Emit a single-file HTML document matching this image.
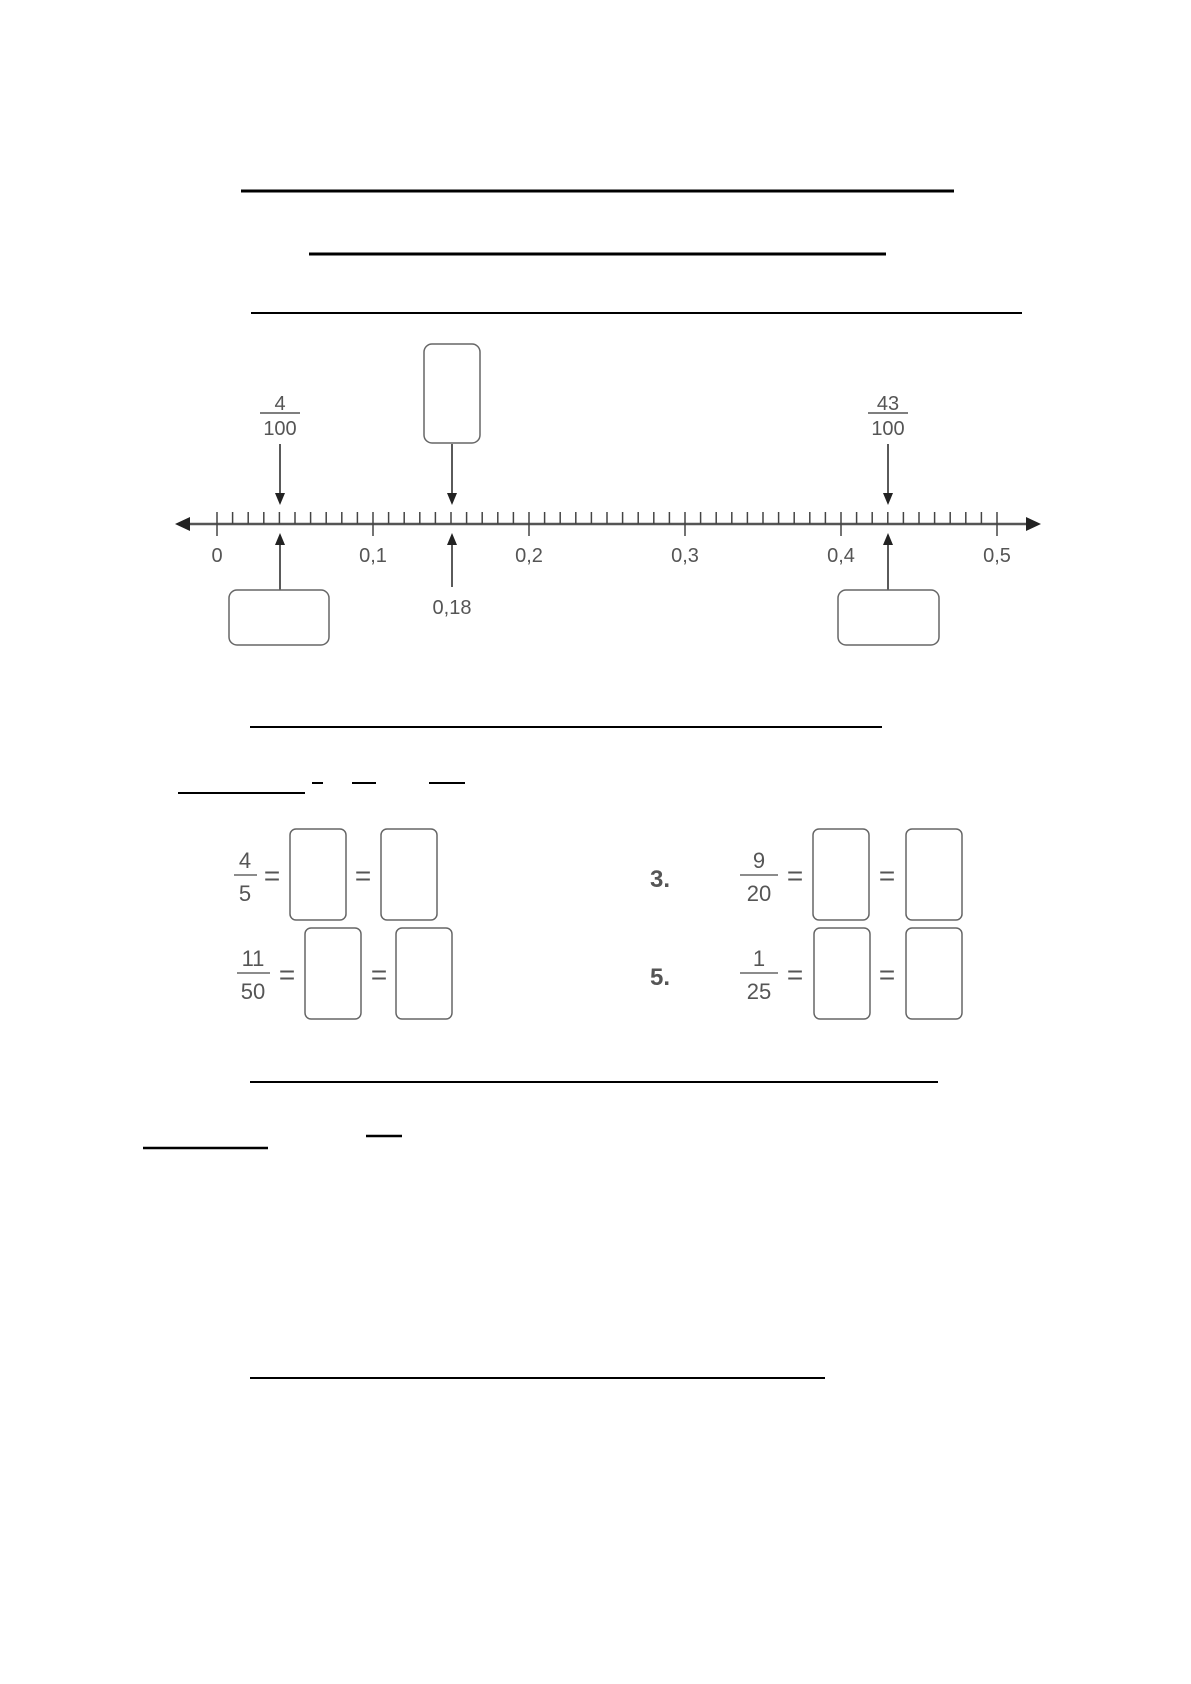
<!DOCTYPE html>
<html><head><meta charset="utf-8"><style>
html,body{margin:0;padding:0;background:#fff;}
svg{display:block;}
text{font-family:"Liberation Sans",sans-serif;fill:#555;}
</style></head><body>
<svg width="1191" height="1684" viewBox="0 0 1191 1684" xmlns="http://www.w3.org/2000/svg">
<defs>
<marker id="ah" markerWidth="10" markerHeight="12" refX="5" refY="11" orient="auto-start-reverse" markerUnits="userSpaceOnUse">
<path d="M0,0 L10,0 L5,12 z" fill="#222"/>
</marker>
</defs>
<!-- heading lines -->
<line x1="241" y1="191" x2="954" y2="191" stroke="#000" stroke-width="3"/>
<line x1="309" y1="254" x2="886" y2="254" stroke="#000" stroke-width="3"/>
<line x1="251" y1="313" x2="1022" y2="313" stroke="#000" stroke-width="2"/>
<line x1="250" y1="727" x2="882" y2="727" stroke="#000" stroke-width="2"/>
<line x1="178" y1="793" x2="305" y2="793" stroke="#000" stroke-width="2"/>
<line x1="312" y1="783" x2="323" y2="783" stroke="#000" stroke-width="2"/>
<line x1="352" y1="783" x2="376" y2="783" stroke="#000" stroke-width="2"/>
<line x1="429" y1="783" x2="465" y2="783" stroke="#000" stroke-width="2"/>
<line x1="250" y1="1082" x2="938" y2="1082" stroke="#000" stroke-width="2"/>
<line x1="143" y1="1148" x2="268" y2="1148" stroke="#000" stroke-width="2.5"/>
<line x1="366" y1="1136" x2="402" y2="1136" stroke="#000" stroke-width="2.5"/>
<line x1="250" y1="1378" x2="825" y2="1378" stroke="#000" stroke-width="2"/>

<!-- number line -->
<line x1="185" y1="524" x2="1030" y2="524" stroke="#555" stroke-width="2.5"/>
<path d="M175,524 L190,517 L190,531 z" fill="#222"/>
<path d="M1041,524 L1026,517 L1026,531 z" fill="#222"/>
<g stroke="#444" stroke-width="1.5" id="ticks">
<line x1="217" y1="512" x2="217" y2="536"/><line x1="232.6" y1="512" x2="232.6" y2="524"/><line x1="248.2" y1="512" x2="248.2" y2="524"/><line x1="263.8" y1="512" x2="263.8" y2="524"/><line x1="279.4" y1="512" x2="279.4" y2="524"/><line x1="295" y1="512" x2="295" y2="524"/><line x1="310.6" y1="512" x2="310.6" y2="524"/><line x1="326.2" y1="512" x2="326.2" y2="524"/><line x1="341.8" y1="512" x2="341.8" y2="524"/><line x1="357.4" y1="512" x2="357.4" y2="524"/>
<line x1="373" y1="512" x2="373" y2="536"/><line x1="388.6" y1="512" x2="388.6" y2="524"/><line x1="404.2" y1="512" x2="404.2" y2="524"/><line x1="419.8" y1="512" x2="419.8" y2="524"/><line x1="435.4" y1="512" x2="435.4" y2="524"/><line x1="451" y1="512" x2="451" y2="524"/><line x1="466.6" y1="512" x2="466.6" y2="524"/><line x1="482.2" y1="512" x2="482.2" y2="524"/><line x1="497.8" y1="512" x2="497.8" y2="524"/><line x1="513.4" y1="512" x2="513.4" y2="524"/>
<line x1="529" y1="512" x2="529" y2="536"/><line x1="544.6" y1="512" x2="544.6" y2="524"/><line x1="560.2" y1="512" x2="560.2" y2="524"/><line x1="575.8" y1="512" x2="575.8" y2="524"/><line x1="591.4" y1="512" x2="591.4" y2="524"/><line x1="607" y1="512" x2="607" y2="524"/><line x1="622.6" y1="512" x2="622.6" y2="524"/><line x1="638.2" y1="512" x2="638.2" y2="524"/><line x1="653.8" y1="512" x2="653.8" y2="524"/><line x1="669.4" y1="512" x2="669.4" y2="524"/>
<line x1="685" y1="512" x2="685" y2="536"/><line x1="700.6" y1="512" x2="700.6" y2="524"/><line x1="716.2" y1="512" x2="716.2" y2="524"/><line x1="731.8" y1="512" x2="731.8" y2="524"/><line x1="747.4" y1="512" x2="747.4" y2="524"/><line x1="763" y1="512" x2="763" y2="524"/><line x1="778.6" y1="512" x2="778.6" y2="524"/><line x1="794.2" y1="512" x2="794.2" y2="524"/><line x1="809.8" y1="512" x2="809.8" y2="524"/><line x1="825.4" y1="512" x2="825.4" y2="524"/>
<line x1="841" y1="512" x2="841" y2="536"/><line x1="856.6" y1="512" x2="856.6" y2="524"/><line x1="872.2" y1="512" x2="872.2" y2="524"/><line x1="887.8" y1="512" x2="887.8" y2="524"/><line x1="903.4" y1="512" x2="903.4" y2="524"/><line x1="919" y1="512" x2="919" y2="524"/><line x1="934.6" y1="512" x2="934.6" y2="524"/><line x1="950.2" y1="512" x2="950.2" y2="524"/><line x1="965.8" y1="512" x2="965.8" y2="524"/><line x1="981.4" y1="512" x2="981.4" y2="524"/>
<line x1="997" y1="512" x2="997" y2="536"/>
</g>
<g font-size="20" text-anchor="middle">
<text x="217" y="562">0</text><text x="373" y="562">0,1</text><text x="529" y="562">0,2</text>
<text x="685" y="562">0,3</text><text x="841" y="562">0,4</text><text x="997" y="562">0,5</text>
<text x="452" y="614">0,18</text>
<text x="280" y="410">4</text><text x="280" y="435">100</text>
<text x="888" y="410">43</text><text x="888" y="435">100</text>
</g>
<line x1="260" y1="413" x2="300" y2="413" stroke="#555" stroke-width="1.5"/>
<line x1="868" y1="413" x2="908" y2="413" stroke="#555" stroke-width="1.5"/>
<!-- arrows -->
<g stroke="#222" stroke-width="1.5">
<line x1="280" y1="444" x2="280" y2="493"/><line x1="452" y1="444" x2="452" y2="493"/><line x1="888" y1="444" x2="888" y2="493"/>
<line x1="280" y1="590" x2="280" y2="545"/><line x1="452" y1="587" x2="452" y2="545"/><line x1="888" y1="590" x2="888" y2="545"/>
</g>
<g fill="#222">
<path d="M275,493 L285,493 L280,505 z"/><path d="M447,493 L457,493 L452,505 z"/><path d="M883,493 L893,493 L888,505 z"/>
<path d="M275,545 L285,545 L280,533 z"/><path d="M447,545 L457,545 L452,533 z"/><path d="M883,545 L893,545 L888,533 z"/>
</g>
<g fill="none" stroke="#666" stroke-width="1.5">
<rect x="424" y="344" width="56" height="99" rx="8"/>
<rect x="229" y="590" width="100" height="55" rx="8"/>
<rect x="838" y="590" width="101" height="55" rx="8"/>
<!-- fraction boxes -->
<rect x="290" y="829" width="56" height="91" rx="6"/>
<rect x="381" y="829" width="56" height="91" rx="6"/>
<rect x="305" y="928" width="56" height="91" rx="6"/>
<rect x="396" y="928" width="56" height="91" rx="6"/>
<rect x="813" y="829" width="56" height="91" rx="6"/>
<rect x="906" y="829" width="56" height="91" rx="6"/>
<rect x="814" y="928" width="56" height="91" rx="6"/>
<rect x="906" y="928" width="56" height="91" rx="6"/>
</g>
<g font-size="22" text-anchor="middle">
<text x="245" y="868">4</text><text x="245" y="901">5</text>
<text x="253" y="966">11</text><text x="253" y="999">50</text>
<text x="759" y="868">9</text><text x="759" y="901">20</text>
<text x="759" y="966">1</text><text x="759" y="999">25</text>
</g>
<g stroke="#666" stroke-width="1.5">
<line x1="234" y1="875" x2="257" y2="875"/><line x1="237" y1="973" x2="270" y2="973"/>
<line x1="740" y1="875" x2="778" y2="875"/><line x1="740" y1="973" x2="778" y2="973"/>
</g>
<g font-size="28" text-anchor="middle" fill="#666">
<text x="272" y="885">=</text><text x="363" y="885">=</text>
<text x="287" y="984">=</text><text x="379" y="984">=</text>
<text x="795" y="885">=</text><text x="887" y="885">=</text>
<text x="795" y="984">=</text><text x="887" y="984">=</text>
</g>
<g font-size="24" font-weight="bold" fill="#333">
<text x="650" y="887">3.</text><text x="650" y="985">5.</text>
</g>
</svg>
</body></html>
